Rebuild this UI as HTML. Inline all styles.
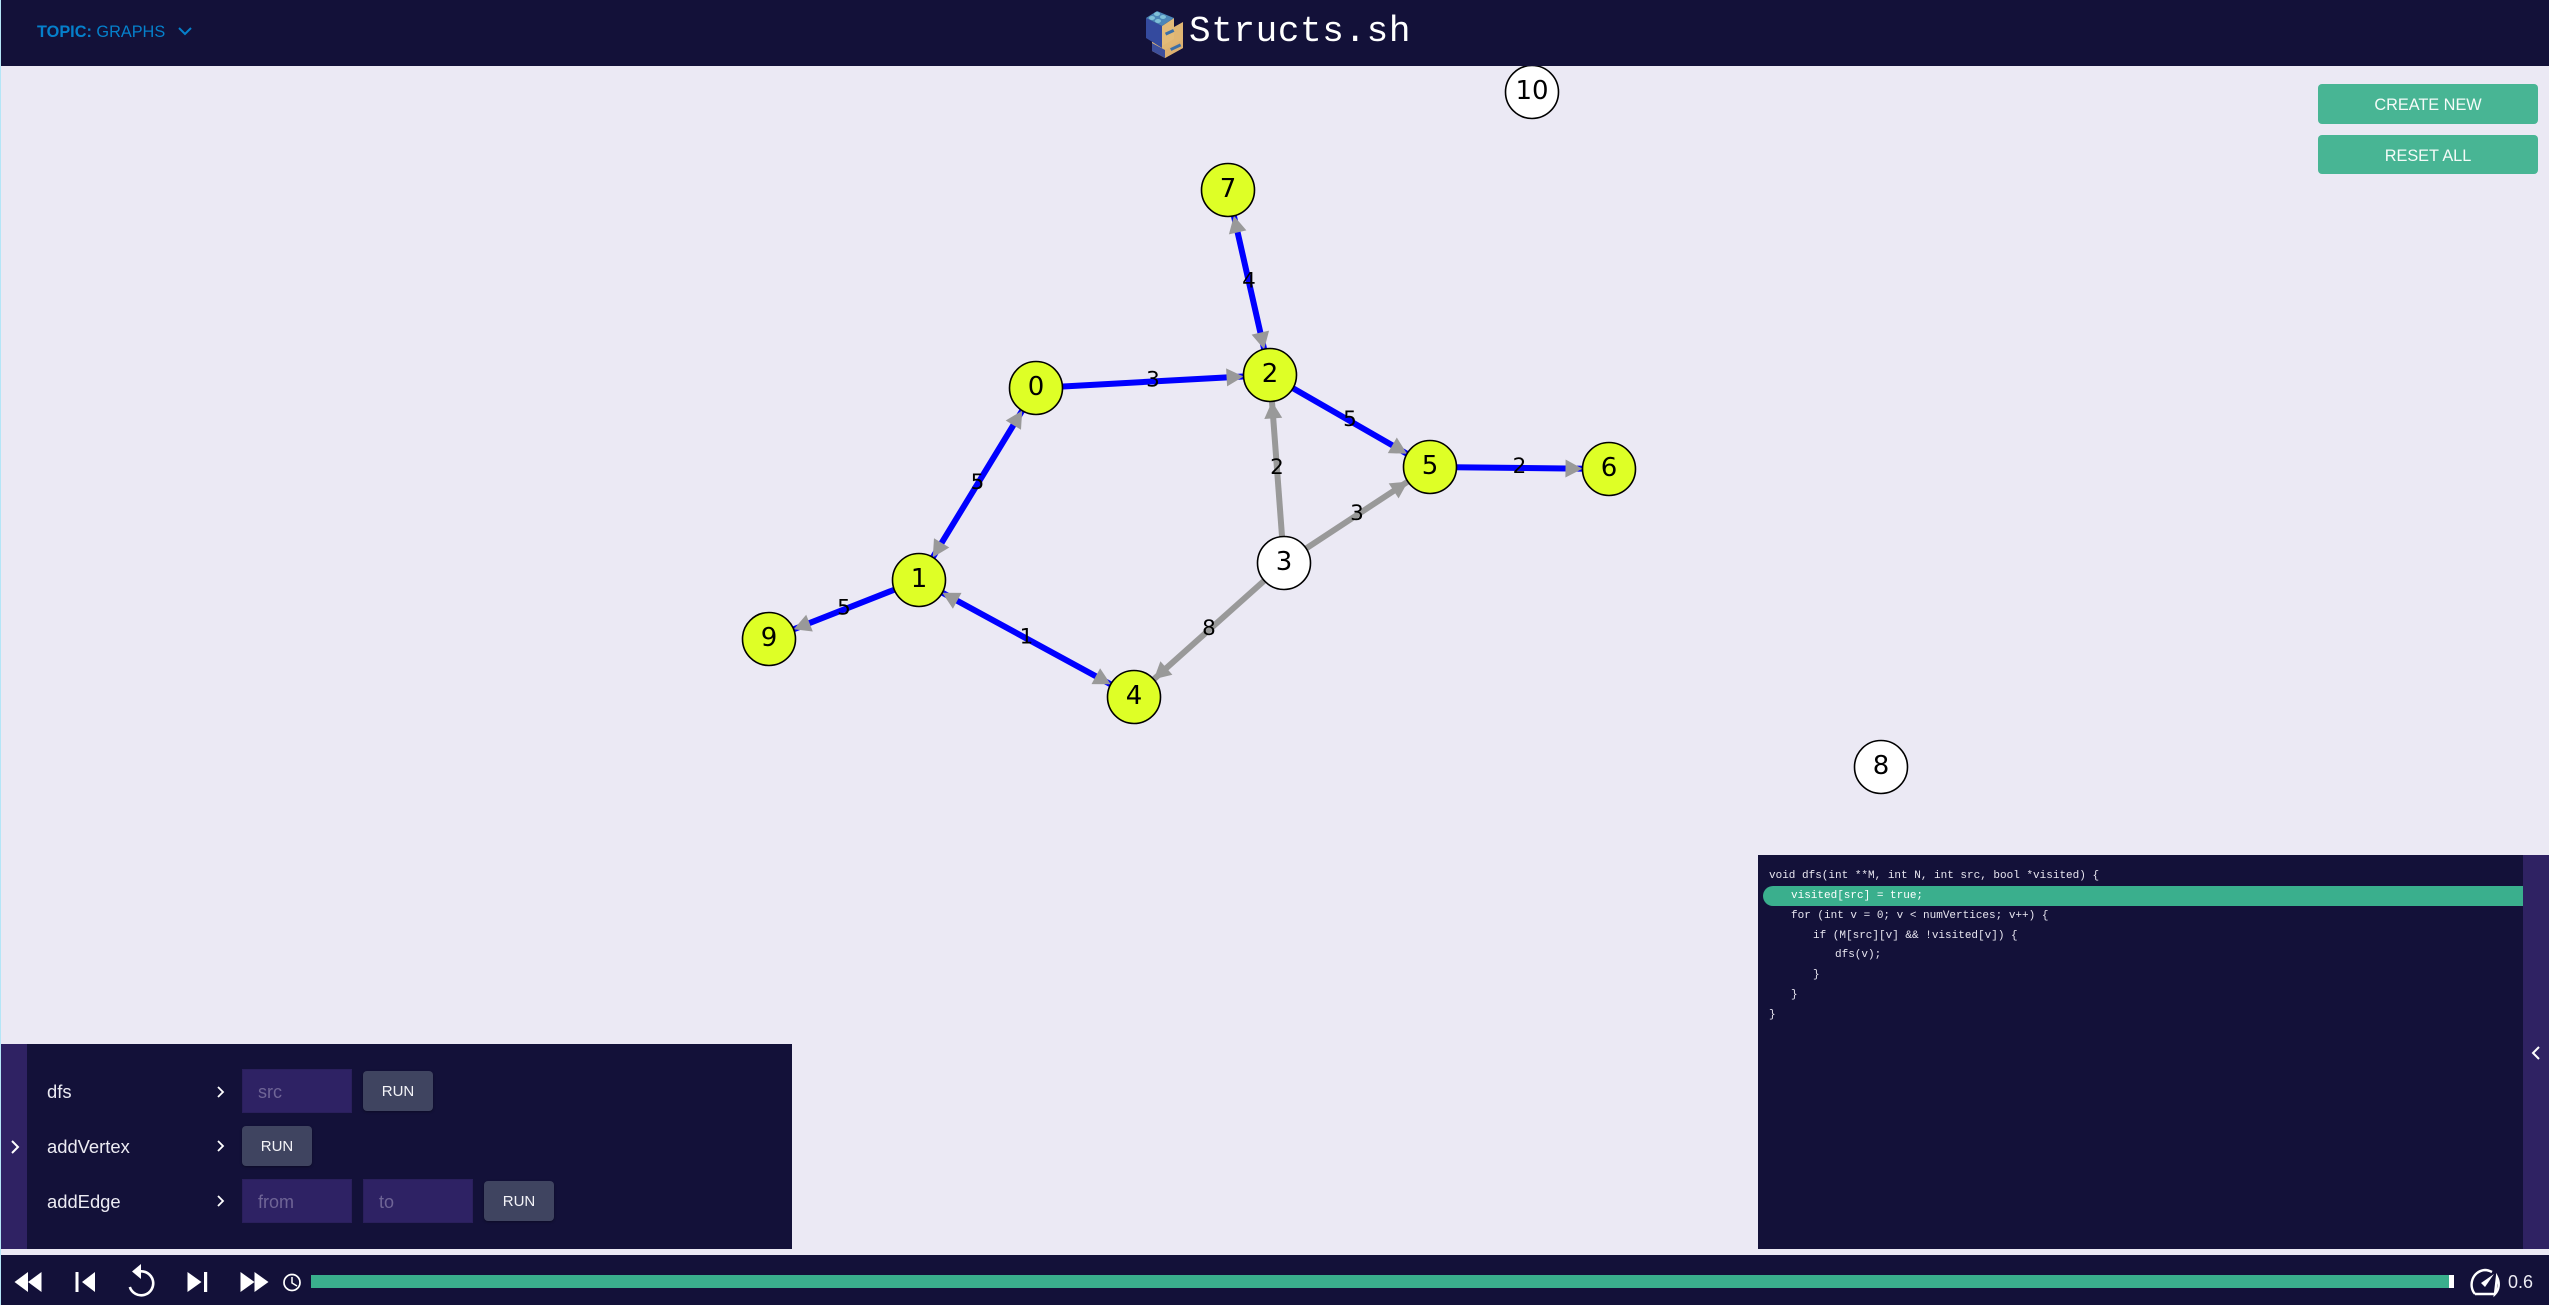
<!DOCTYPE html>
<html lang="en">
<head>
<meta charset="utf-8">
<title>Structs.sh</title>
<style>
  html,body{margin:0;padding:0;background:#ebe9f4;}
  #page{position:relative;width:2549px;height:1305px;overflow:hidden;background:#ebe9f4;font-family:"Liberation Sans",sans-serif;}
  .abs{position:absolute;}
  .dark{background:#131139;}
  .strip{background:#2f2263;}
  .side-btn{position:absolute;left:2318px;width:220px;height:40px;border:0;border-radius:4px;background:#48b594;color:#f4fbf8;font:16.3px "Liberation Sans",sans-serif;padding:3px 0 0 0;text-align:center;}
  .run{position:absolute;width:70px;height:40px;border:0;border-radius:4px;background:#3f4460;color:#f4f4f8;font:15px "Liberation Sans",sans-serif;padding:1px 0 0 0;box-shadow:0 1px 2px rgba(0,0,0,.35);}
  .inp{position:absolute;width:110px;height:44px;box-sizing:border-box;border:1px solid #2a1f5c;background:#2e2264;color:#fff;font:18px "Liberation Sans",sans-serif;padding:2px 0 0 15px;outline:none;border-radius:0;}
  .inp::placeholder{color:#6f6596;opacity:1;}
  .op{position:absolute;left:47px;color:#ecebf3;font:18.4px/24px "Liberation Sans",sans-serif;}
  .code-line{position:absolute;left:1769px;height:20px;color:#e8e6f0;font:11px/20px "Liberation Mono",monospace;white-space:pre;margin:0;}
</style>
</head>
<body>
<div id="page">

  <svg id="graph" class="abs" style="left:0;top:0" width="2549" height="1305" viewBox="0 0 2549 1305"></svg>

  <div class="abs dark" style="left:1px;top:0;width:2548px;height:66px"></div>
  <div class="abs" style="left:37px;top:22px;color:#0580cb;font-size:16.3px;line-height:20px;white-space:nowrap"><b>TOPIC:</b> GRAPHS</div>
  <svg class="abs" style="left:177px;top:26px" width="16" height="10"><polyline points="2,2 8,8 14,2" fill="none" stroke="#0580cb" stroke-width="2"/></svg>

  <svg class="abs" style="left:1139px;top:5px" width="50" height="55" viewBox="0 0 50 55">
    <polygon points="26,27 44,17 44,43 26,53 13,46 13,37" fill="#e0b673"/>
    <polygon points="13,38 26,45 26,53 13,46" fill="#3d4f9c"/>
    <polygon points="26,45 44,34 44,43 26,53" fill="#dcb070"/>
    <polygon points="7,13 23,21 23,43 7,33" fill="#344a9e"/>
    <polygon points="23,21 35,13 35,34 23,41" fill="#e3bb78"/>
    <polygon points="18,6 35,13 23,21 7,13" fill="#4b86b8"/>
    <ellipse cx="18" cy="9" rx="3" ry="2" fill="#7fc0d8"/>
    <ellipse cx="13" cy="13" rx="3" ry="2" fill="#7fc0d8"/>
    <ellipse cx="24" cy="12" rx="3" ry="2" fill="#7fc0d8"/>
    <ellipse cx="19" cy="16" rx="3" ry="2" fill="#7fc0d8"/>
    <rect x="26" y="26" width="9" height="3" fill="#3a6fa8" transform="rotate(-25 30 27)"/>
    <rect x="31" y="41" width="11" height="3" fill="#3a6fa8" transform="rotate(-25 36 42)"/>
  </svg>
  <div class="abs" style="left:1189px;top:11px;color:#fff;font:36px/42px 'Liberation Mono',monospace;letter-spacing:.6px;white-space:nowrap">Structs.sh</div>

  <button class="side-btn" style="top:84px">CREATE NEW</button>
  <button class="side-btn" style="top:135px;height:39px">RESET ALL</button>

  <div class="abs dark" style="left:1px;top:1044px;width:791px;height:205px"></div>
  <div class="abs strip" style="left:1px;top:1044px;width:26px;height:205px"></div>
  <svg class="abs" style="left:9px;top:1140px" width="12" height="14"><polyline points="3,1 9,7 3,13" fill="none" stroke="#fff" stroke-width="2"/></svg>

  <div class="op" style="top:1080px">dfs</div>
  <svg class="abs" style="left:216px;top:1085px" width="10" height="14"><polyline points="2,2 7,7 2,12" fill="none" stroke="#fff" stroke-width="1.8"/></svg>
  <input class="inp" style="left:242px;top:1069px" placeholder="src">
  <button class="run" style="left:363px;top:1071px">RUN</button>

  <div class="op" style="top:1135px">addVertex</div>
  <svg class="abs" style="left:216px;top:1139px" width="10" height="14"><polyline points="2,2 7,7 2,12" fill="none" stroke="#fff" stroke-width="1.8"/></svg>
  <button class="run" style="left:242px;top:1126px">RUN</button>

  <div class="op" style="top:1190px">addEdge</div>
  <svg class="abs" style="left:216px;top:1194px" width="10" height="14"><polyline points="2,2 7,7 2,12" fill="none" stroke="#fff" stroke-width="1.8"/></svg>
  <input class="inp" style="left:242px;top:1179px" placeholder="from">
  <input class="inp" style="left:363px;top:1179px" placeholder="to">
  <button class="run" style="left:484px;top:1181px">RUN</button>

  <div class="abs dark" style="left:1758px;top:855px;width:765px;height:394px"></div>
  <div class="abs strip" style="left:2523px;top:855px;width:26px;height:394px"></div>
  <svg class="abs" style="left:2530px;top:1045px" width="12" height="16"><polyline points="9,2 3,8 9,14" fill="none" stroke="#fff" stroke-width="2"/></svg>
  <div class="abs" style="left:1763px;top:886px;width:760px;height:20px;background:#3aaf8d;border-radius:10px 0 0 10px"></div>
  <pre class="code-line" style="top:866px">void dfs(int **M, int N, int src, bool *visited) {</pre>
  <pre class="code-line" style="top:886px;left:1791px;color:#fff">visited[src] = true;</pre>
  <pre class="code-line" style="top:906px;left:1791px">for (int v = 0; v &lt; numVertices; v++) {</pre>
  <pre class="code-line" style="top:926px;left:1813px">if (M[src][v] &amp;&amp; !visited[v]) {</pre>
  <pre class="code-line" style="top:945px;left:1835px">dfs(v);</pre>
  <pre class="code-line" style="top:965px;left:1813px">}</pre>
  <pre class="code-line" style="top:985px;left:1791px">}</pre>
  <pre class="code-line" style="top:1005px">}</pre>

  <div class="abs dark" style="left:1px;top:1255px;width:2548px;height:50px"></div>
  <svg class="abs" style="left:0;top:1255px" width="310" height="50" viewBox="0 1255 310 50">
    <g fill="#fff">
      <polygon points="14.5,1282 28,1272 28,1292"/>
      <polygon points="28,1282 41.5,1272 41.5,1292"/>
      <rect x="75.5" y="1272" width="3" height="20"/>
      <polygon points="82,1282 95,1272 95,1292"/>
      <polygon points="187.5,1272 201.5,1282 187.5,1292"/>
      <rect x="204" y="1272" width="3.2" height="20"/>
      <polygon points="240.5,1272 254.5,1282 240.5,1292"/>
      <polygon points="254.5,1272 268.5,1282 254.5,1292"/>
      <polygon points="141,1264 141,1279 132,1271.5"/>
    </g>
    <path d="M139 1271.5 A12 12 0 1 1 129.8 1287" fill="none" stroke="#fff" stroke-width="2.6"/>
    <circle cx="292" cy="1282.5" r="8" fill="none" stroke="#fff" stroke-width="1.7"/>
    <polyline points="292,1277 292,1283 297,1286" fill="none" stroke="#fff" stroke-width="1.5"/>
  </svg>
  <div class="abs" style="left:311px;top:1275px;width:2138px;height:13px;background:#3aaf8d"></div>
  <div class="abs" style="left:2449px;top:1275px;width:5px;height:13px;background:#fff"></div>
  <svg class="abs" style="left:2469px;top:1266px" width="32" height="32" viewBox="0 0 32 32">
    <path d="M6 28 C-1 20 3 5 16 4 C19 4 21 5 23 6 M28 11 C31 17 30 24 26 28 Z M6 28 L26 28" fill="none" stroke="#fff" stroke-width="2.4"/>
    <polygon points="12,17 25,8 16,21" fill="#fff"/>
  </svg>
  <div class="abs" style="left:2508px;top:1272px;color:#ecebf3;font:18px/20px 'Liberation Sans',sans-serif">0.6</div>

  <div class="abs" style="left:0;top:0;width:1px;height:1305px;background:#b4e6f7"></div>
</div>

<script>
// Graph data (layout units: 1 unit = 10 screen pixels)
const vertexIds = ["0","1","2","3","4","5","6","7","8","9","10"];
const vertexLayoutX = [103.6, 91.9, 127.0, 128.4, 113.4, 143.0, 160.9, 122.8, 188.1, 76.9, 153.2];
const vertexLayoutY = [38.8, 58.0, 37.5, 56.3, 69.7, 46.7, 46.9, 19.0, 76.7, 63.9, 9.2];
const vertexVisited = [1, 1, 1, 0, 1, 1, 1, 1, 0, 1, 0];

const edgeFrom = [0, 1, 2, 1, 4, 2, 5, 3, 3, 3];
const edgeTo = [2, 0, 7, 9, 1, 5, 6, 2, 5, 4];
const edgeWeights = [3, 5, 4, 5, 1, 5, 2, 2, 3, 8];
const edgeVisited = [1, 1, 1, 1, 1, 1, 1, 0, 0, 0];
const edgeBothWays = [0, 1, 1, 0, 1, 0, 0, 0, 0, 0];

const NS = "http://www.w3.org/2000/svg";
const svg = document.getElementById("graph");
const R = 26.5;
const unit = 10;
const xAxis = v => v * unit;
const yAxis = v => v * unit;

function make(tag, attrs) {
  const el = document.createElementNS(NS, tag);
  for (const k in attrs) el.setAttribute(k, attrs[k]);
  return el;
}

function arrowHead(x1, y1, x2, y2) {
  const d = Math.hypot(x2 - x1, y2 - y1);
  const ux = (x2 - x1) / d, uy = (y2 - y1) / d;
  const tx = x2 - ux * R, ty = y2 - uy * R;
  const bx = tx - ux * 17, by = ty - uy * 17;
  const w = 9;
  const pts = [tx, ty, bx - uy * w, by + ux * w, bx + uy * w, by - ux * w].map(n => n.toFixed(1)).join(" ");
  const p = make("polygon", { points: pts, fill: "#999999" });
  
  
  svg.appendChild(p);
}

edgeFrom.forEach((from, i) => {
  const to = edgeTo[i];
  const x1 = xAxis(vertexLayoutX[from]), y1 = yAxis(vertexLayoutY[from]);
  const x2 = xAxis(vertexLayoutX[to]), y2 = yAxis(vertexLayoutY[to]);
  const line = make("line", { x1, y1, x2, y2, stroke: edgeVisited[i] ? "#0000ff" : "#999999", "stroke-width": 6 });
  
  
  svg.appendChild(line);
});

edgeFrom.forEach((from, i) => {
  const to = edgeTo[i];
  const x1 = xAxis(vertexLayoutX[from]), y1 = yAxis(vertexLayoutY[from]);
  const x2 = xAxis(vertexLayoutX[to]), y2 = yAxis(vertexLayoutY[to]);
  arrowHead(x1, y1, x2, y2);
  if (edgeBothWays[i]) arrowHead(x2, y2, x1, y1);
  const label = make("text", {
    x: (x1 + x2) / 2,
    y: (y1 + y2) / 2 + 5,
    "text-anchor": "middle",
    "font-family": '"DejaVu Sans", sans-serif',
    "font-size": 21.5,
    fill: "#000"
  });
  label.textContent = edgeWeights[i];
  
  
  svg.appendChild(label);
});

vertexIds.forEach((id, i) => {
  const cx = xAxis(vertexLayoutX[i]), cy = yAxis(vertexLayoutY[i]);
  const c = make("circle", { cx, cy, r: R, fill: vertexVisited[i] ? "#deff26" : "#ffffff", stroke: "#000", "stroke-width": 1.6 });
  
  
  svg.appendChild(c);
  const t = make("text", {
    x: cx,
    y: cy + 7,
    "text-anchor": "middle",
    "font-family": '"DejaVu Sans", sans-serif',
    "font-size": 26,
    fill: "#000"
  });
  t.textContent = id;
  
  
  svg.appendChild(t);
});
</script>
</body>
</html>
